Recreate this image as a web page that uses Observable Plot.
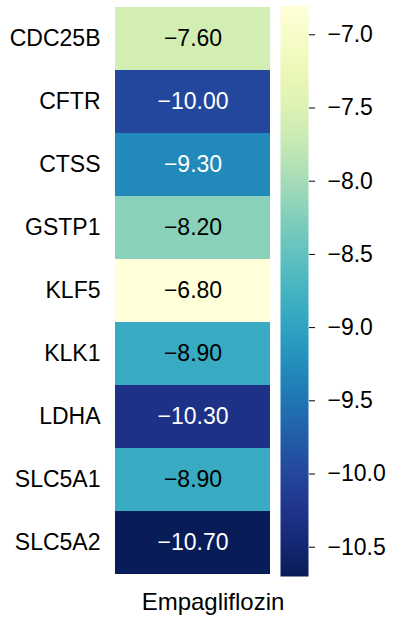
<!DOCTYPE html>
<html>
<head>
<meta charset="utf-8">
<script src="https://cdn.jsdelivr.net/npm/d3@7"></script>
<script src="https://cdn.jsdelivr.net/npm/@observablehq/plot@0.6"></script>
<style>
  html, body { margin: 0; padding: 0; background: #fff; }
  #wrap { display: flex; width: 394px; height: 620px; font-family: "Liberation Sans", Arial, sans-serif; }
  svg { font-family: "Liberation Sans", Arial, sans-serif; overflow: visible; }
</style>
</head>
<body>
<div id="wrap"></div>
<script>
const genes = ["CDC25B", "CFTR", "CTSS", "GSTP1", "KLF5", "KLK1", "LDHA", "SLC5A1", "SLC5A2"];
const drug = ["Empagliflozin"];
const scores = [-7.60, -10.00, -9.30, -8.20, -6.80, -8.90, -10.30, -8.90, -10.70];
const colorbarTicks = [-7.0, -7.5, -8.0, -8.5, -9.0, -9.5, -10.0, -10.5];

const vmin = d3.min(scores), vmax = d3.max(scores);
const rows = genes.map((g, i) => ({gene: g, drug: drug[0], value: scores[i]}));
const colorOpts = {type: "linear", scheme: "YlGnBu", reverse: true, domain: [vmin, vmax]};
const fmt = v => (v < 0 ? "\u2212" : "") + Math.abs(v).toFixed(2);
const colorFn = Plot.scale({color: colorOpts});
const lum = c => d3.lab(c).l;

const heat = Plot.plot({
  width: 275, height: 620,
  marginLeft: 115, marginRight: 5, marginTop: 5, marginBottom: 44,
  style: {fontSize: "23px", fontFamily: "Liberation Sans, Arial, sans-serif", color: "#000", overflow: "visible"},
  x: {domain: drug, padding: 0, label: null, axis: null},
  y: {domain: genes, padding: 0, label: null, tickSize: 0, tickPadding: 15, fontSize: 23},
  color: colorOpts,
  marks: [
    Plot.cell(rows, {x: "drug", y: "gene", fill: "value", inset: 0}),
    Plot.text(rows, {x: "drug", y: "gene", text: d => fmt(d.value), fontSize: 23,
      fill: d => lum(colorFn.apply(d.value)) < 60 ? "white" : "black"}),
    Plot.axisX({tickSize: 0, tickPadding: 16, fontSize: 24, dx: 20, label: null})
  ]
});

const bar = Plot.plot({
  width: 119, height: 620,
  marginLeft: 5, marginRight: 86, marginTop: 5, marginBottom: 44,
  style: {fontSize: "23px", fontFamily: "Liberation Sans, Arial, sans-serif", color: "#000"},
  x: {domain: [0, 1], axis: null},
  y: {domain: [vmin, vmax], axis: "right", label: null, ticks: colorbarTicks, fontSize: 23,
      tickFormat: v => "\u2212" + Math.abs(v).toFixed(1), tickSize: 6, tickPadding: 13},
  color: colorOpts,
  marks: [
    Plot.raster({x1: 0, x2: 1, y1: vmin, y2: vmax, fill: (x, y) => y, pixelSize: 1, imageRendering: "auto"})
  ]
});

document.getElementById("wrap").append(heat, bar);
</script>
</body>
</html>
